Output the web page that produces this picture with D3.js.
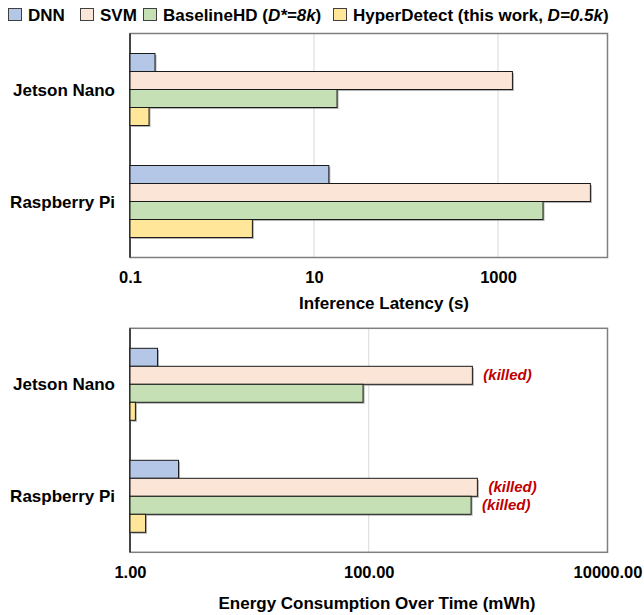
<!DOCTYPE html>
<html>
<head>
<meta charset="utf-8">
<script src="https://cdn.jsdelivr.net/npm/d3@7"></script>
<style>
  body { margin: 0; background: #fff; }
  svg { font-family: "Liberation Sans", Arial, sans-serif; font-weight: bold; }
</style>
</head>
<body>
<svg id="chart" width="644" height="615"></svg>
<script>
// devices and series
const devices = ["Jetson Nano", "Raspberry Pi"]
const series = ["DNN", "SVM", "BaselineHD", "HyperDetect"]
const colors = ["#b4c7e7", "#fbe5d6", "#c5e0b4", "#ffe699"]

// inference latency (s), one array per series, [Jetson, RPi]
const latDNN = [0.187, 14.5]
const latSVM = [1435, 10100]
const latBase = [17.8, 3085]
const latHyper = [0.161, 2.14]

// energy (mWh)
const enDNN = [1.70, 2.55]
const enSVM = [738, 813]
const enBase = [89.6, 720]
const enHyper = [1.11, 1.35]
// which bars got killed
const enKilled = [[false, false], [true, true], [false, true], [false, false]]

const latTicks = [0.1, 10, 1000]
const enTicks = [1, 100, 10000]

const svg = d3.select("#chart")

// legend
const legendItems = [
  { x: 8, parts: [["DNN", false]] },
  { x: 80, parts: [["SVM", false]] },
  { x: 143, parts: [["BaselineHD (", false], ["D*=8k", true], [")", false]] },
  { x: 333, parts: [["HyperDetect (this work, ", false], ["D=0.5k", true], [")", false]] }
]
legendItems.forEach((it, i) => {
  svg.append("rect").attr("x", it.x + 0.5).attr("y", 8.5).attr("width", 13).attr("height", 12)
    .attr("fill", colors[i]).attr("stroke", "#404040").attr("stroke-width", 1)
  const t = svg.append("text").attr("x", it.x + 20).attr("y", 20.5).attr("font-size", 17)
  it.parts.forEach(p => t.append("tspan").text(p[0]).attr("font-style", p[1] ? "italic" : "normal"))
})

function panel(cfg) {
  const { top, data, ticks, domain, fmt, title, titleX, titleY, killed } = cfg
  const left = 130, right = 607.5, h = 224
  const x = d3.scaleLog().domain(domain).range([left, right])
  const y0 = d3.scaleBand().domain(devices).range([top, top + h])
    .paddingInner(40 / 112).paddingOuter(20 / 112)
  const y1 = d3.scaleBand().domain(series).range([0, y0.bandwidth()])

  const g = svg.append("g")

  // gridlines
  g.selectAll(".grid").data(ticks.slice(1)).enter().append("line")
    .attr("x1", d => x(d)).attr("x2", d => x(d))
    .attr("y1", top).attr("y2", top + h)
    .attr("stroke", "#d9d9d9").attr("stroke-width", 1)

  // frame
  g.append("rect").attr("x", left).attr("y", top).attr("width", right - left).attr("height", h)
    .attr("fill", "none").attr("stroke", "#7f7f7f").attr("stroke-width", 1.5)
  g.append("line").attr("x1", left).attr("x2", left).attr("y1", top).attr("y2", top + h)
    .attr("stroke", "#262626").attr("stroke-width", 1.5)

  // bars
  data.forEach((vals, si) => {
    devices.forEach((dev, di) => {
      const yy = y0(dev) + y1(series[si])
      const w = x(vals[di]) - left
      g.append("rect").attr("x", left + 1.5).attr("y", yy + 1.5).attr("width", w).attr("height", y1.bandwidth())
        .attr("fill", "#7f7f7f").attr("opacity", 0.6)
      g.append("rect").attr("x", left).attr("y", yy).attr("width", w).attr("height", y1.bandwidth())
        .attr("fill", colors[si]).attr("stroke", "#1a1a1a").attr("stroke-width", 1)
      if (killed && killed[si][di]) {
        g.append("text").attr("x", x(vals[di]) + 11).attr("y", yy + y1.bandwidth() / 2 + 5)
          .attr("font-size", 15).attr("font-style", "italic").attr("fill", "#c00000")
          .text("(killed)")
      }
    })
  })

  // category labels
  devices.forEach(dev => {
    g.append("text").attr("x", 115).attr("y", y0(dev) + y0.bandwidth() / 2 + 6)
      .attr("text-anchor", "end").attr("font-size", 17).text(dev)
  })

  // x axis labels
  const axis = d3.axisBottom(x).tickValues(ticks).tickFormat(fmt).tickSize(0).tickPadding(0)
  const ag = g.append("g").attr("transform", `translate(0,${top + h})`).call(axis)
  ag.select(".domain").remove()
  ag.selectAll("text").attr("font-size", 16.5).attr("font-family", null).attr("fill", "#000")
    .attr("dy", null).attr("y", 25.5)

  g.append("text").attr("x", titleX).attr("y", titleY).attr("text-anchor", "middle")
    .attr("font-size", 17).text(title)
}

panel({
  top: 33.5, data: [latDNN, latSVM, latBase, latHyper], ticks: latTicks,
  domain: [0.1, 15500], fmt: d => String(d), title: "Inference Latency (s)",
  titleX: 384, titleY: 309
})
panel({
  top: 328.3, data: [enDNN, enSVM, enBase, enHyper], ticks: enTicks,
  domain: [1, 10000], fmt: d3.format(".2f"), title: "Energy Consumption Over Time (mWh)",
  titleX: 377, titleY: 609, killed: enKilled
})
</script>
</body>
</html>
